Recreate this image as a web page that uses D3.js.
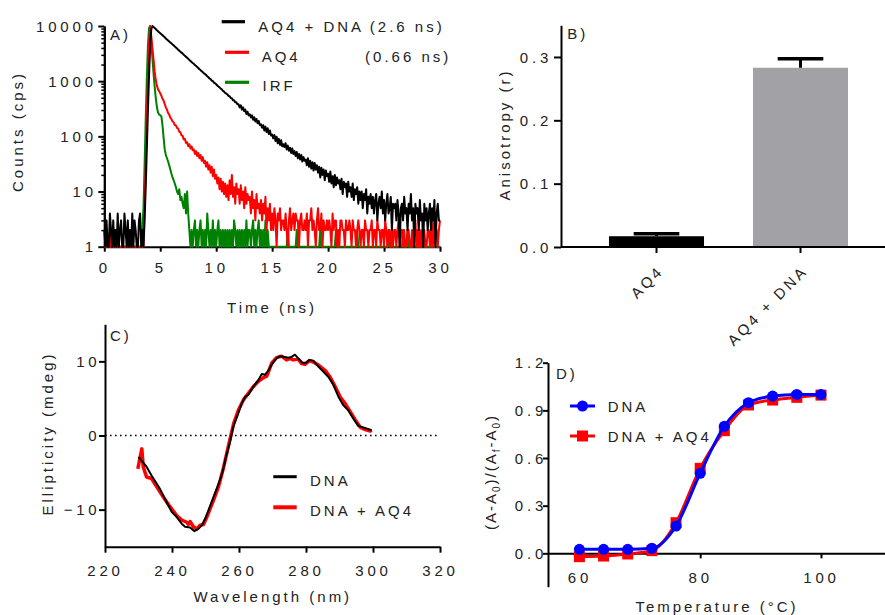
<!DOCTYPE html>
<html>
<head>
<meta charset="utf-8">
<script src="https://cdn.jsdelivr.net/npm/d3@7"></script>
<style>
body { margin: 0; background: #fff; }
svg text { font-family: "Liberation Sans", Arial, Helvetica, sans-serif; fill: #222; }
</style>
</head>
<body>
<svg id="fig" width="885" height="615"></svg>
<script>
// ---- A) fluorescence decays, counts per 0.1 ns channel ----
const channelNs = 0.1;
const decayDnaAq4 = [
 2,1,3,1,1,4,2,1,3,1, 2,1,4,1,2,3,1,1,4,2, 1,3,1,2,1,4,1,3,2,1, 1,3,4,1,2,1,
 3,12,60,300,1300,4500,8800,10000,9600,
 9200,8800,8400,8050,7700,
 7400,7100,6800,6500,6250,5950,5700,5480,5250,5030,
 4840,4620,4450,4240,4080,3900,3720,3580,3420,3290,
 3160,3010,2900,2770,2650,2540,2430,2330,2230,2140,
 2065,1960,1890,1800,1730,1650,1590,1510,1460,1390,
 1350,1290,1230,1180,1120,1090,1020,1000,940,915,
 880,835,800,770,730,710,665,650,610,600,
 575,540,535,495,490,450,450,415,415,380,
 380,335,365,305,335,285,305,255,280,240,
 252,220,240,200,222,186,206,172,190,160,
 165,143,160,128,150,120,140,110,128,104,
 108,92,106,82,98,75,90,70,85,66,
 72,64,75,58,68,55,62,50,60,48,
 54,44,52,40,48,38,46,35,42,36,
 38,30,40,28,36,26,34,24,33,25,
 30,22,28,18,27,20,25,16,24,19,
 21,15,23,14,19,12,20,13,18,14,
 16,11,17,9,15,12,14,8,15,10,
 12,8,14,7,11,9,12,6,10,7,
 10,5,9,7,11,4,8,6,9,5,
 8,4,7,9,3,6,8,5,10,4,
 7,3,6,9,4,5,8,2,6,5,
 6,3,7,4,1,5,6,3,8,4,
 5,2,6,4,9,3,5,1,6,4,
 5,2,7,3,4,1,6,3,5,2,
 4,6,2,5,3,7,1,4,6,3,
 3];
const decayAq4 = [
 1,1,1,1,1,2,1,1,1,1, 1,1,1,1,1,1,1,1,1,1, 1,2,1,1,1,1,1,1,1,1, 1,1,1,1,1,1,
 5,30,200,1100,5000,10000,
 6500,4000,2500,1500,1050,830,710,660,
 600,545,480,445,385,335,305,265,248,218,
 205,186,180,160,158,142,138,122,118,104,
 102,88,90,76,78,66,72,60,66,56,
 58,48,54,44,50,40,46,36,42,33,
 36,28,34,25,30,22,28,19,25,17,
 20,14,18,11,17,10,15,9,14,8,
 13,7,16,9,20,8,12,6,14,9,
 11,6,13,7,10,5,12,6,9,7,
 8,4,10,5,7,3,9,5,6,4,
 7,3,6,4,8,2,5,3,6,2,
 4,2,5,3,1,4,3,5,2,3,
 3,2,4,2,1,3,5,2,3,4,
 2,4,3,3,1,3,4,2,2,3,
 2,4,1,3,3,5,2,3,2,1,
 3,5,2,2,4,1,3,2,2,3,
 2,3,2,1,4,2,3,3,1,2,
 1,3,3,2,2,1,3,2,2,3,
 2,1,3,2,2,1,2,3,2,1,
 2,2,1,3,2,2,1,2,2,3,
 1,2,2,1,3,2,2,1,2,2,
 1,3,2,1,2,2,1,2,1,2,
 2,1,2,3,1,2,2,1,2,1,
 1,2,2,1,1,2,1,2,3,1,
 2,1,2,1,2,1,2,1,1,2,
 2,1,2,1,3,1,2,2,1,2,
 3];
const decayIrf = [
 1,1,1,1,1,1,1,1,1,1, 1,1,1,1,1,1,1,1,1,1, 1,1,1,1,1,1,1,1,1,1, 1,1,1,1,
 2,5,30,200,1100,4500,9200,10000,
 5000,2600,1400,800,500,340,270,250,
 240,230,160,95,58,46,40,35,30,25,
 21,18,16,14,12,10,9,11,7,8,
 6,5,9,4,10,4,2,1,2,1,
 2,3,1,2,1,2,3,1,2,1,
 2,1,4,2,1,2,1,3,1,2,
 1,2,3,1,2,1,2,1,2,1,
 2,1,2,1,2,1,3,2,1,2,
 1,2,1,2,1,2,1,3,1,2,
 2,1,2,3,1,2,1,2,3,1,
 2,1,2,1,3,1,2,1,1,1,
 1,1,1,1,1,1,1,1,1,1,
 1,1,1,1,2,1,1,1,1,1,
 1,1,2,1,1,1,1,1,1,1,
 1,1,1,1,1,1,1,1,1,1,
 1,1,1,2,1,1,1,1,1,1,
 1,1,1,1,1,1,1,2,1,1,
 1,1,1,1,1,1,1,1,1,1,
 1,1,1,1,1,1,2,1,1,1,
 1,1,1,1,1,1,1,1,1,1,
 1,1,1,1,1,1,1,1,1,1,
 1,1,1,1,2,1,1,1,1,1,
 1,1,1,1,1,1,1,2,1,1,
 1,2,1,1,1,1,1,1,1,1,
 1,1,1,1,1,1,1,1,1,1, 1,1,1,1,1,1,1,1,1,1, 1];
const timeTicks = [0, 5, 10, 15, 20, 25, 30];
const countTicks = [1, 10, 100, 1000, 10000];
const decayNames = ["AQ4 + DNA", "AQ4", "IRF"];
const decayLifetimes = ["(2.6 ns)", "(0.66 ns)", ""];

// ---- B) anisotropy ----
const anisoCats = ["AQ4", "AQ4 + DNA"];
const anisoMean = [0.017, 0.283];
const anisoErr = [0.004, 0.014];
const anisoTicks = [0, 0.1, 0.2, 0.3];

// ---- C) CD spectra ----
const cdWlDna = [230,232.4,233.9,236.4,238.4,239.9,241.4,242.9,243.9,245.4,246.7,247.9,248.9,249.9,251.3,
 252.8,254.3,255.1,256.1,257.3,258.3,259.8,260.8,261.8,262.8,264.3,265.8,266.8,267.8,268.8,269.8,271.2,
 272.2,273.7,274.7,275.7,276.7,277.7,279,280,281,282.2,283.7,285.2,286.7,288.2,289.7,291.1,292.6,294.1,
 295.6,297.1,299.6];
const cdDna = [-2.9,-4.2,-5.4,-7.2,-9.0,-10.3,-11.0,-11.9,-12.3,-12.4,-12.9,-12.6,-12.1,-11.2,-9.6,
 -7.8,-6.0,-4.9,-2.9,-0.9,1.2,3.0,4.3,5.2,5.5,6.6,7.5,8.3,8.2,8.8,9.6,10.4,
 10.7,10.6,10.5,10.6,10.9,10.4,9.8,9.8,10.2,10.1,9.3,8.6,7.9,6.8,5.2,4.1,3.4,2.3,
 1.3,1.1,0.7];
const cdWlDnaAq4 = [229.8,230.5,231,231.4,232.4,233.9,235.4,237.4,239.4,241.4,242.9,244.4,244.9,245.4,246.4,
 247.4,248.4,249.4,250.4,252.4,253.9,255.4,256.9,258.4,259.8,261.3,262.8,264.3,265.8,267.3,268.3,269.8,
 271.2,272.7,274.2,275.2,276.2,277.7,278.7,279.7,281,282.2,283.7,285.7,287.2,288.7,290.2,291.7,293.2,
 294.7,296.2,297.7,299.2,299.6];
const cdDnaAq4 = [-4.5,-2.9,-1.8,-4.2,-5.6,-5.8,-6.9,-8.3,-9.6,-10.8,-11.4,-11.7,-12.0,-11.6,-12.3,
 -12.6,-12.1,-12.0,-11.0,-8.7,-6.9,-4.3,-1.3,1.6,3.4,4.8,5.7,6.6,7.3,7.8,8.0,9.8,
 10.5,10.7,10.2,10.4,10.2,10.3,9.7,9.6,10.1,9.9,9.5,8.8,7.9,6.6,5.2,4.3,3.2,
 2.1,1.1,0.8,0.6,0.7];
const wlTicks = [220, 240, 260, 280, 300, 320];
const cdTicks = [-10, 0, 10];
const cdNames = ["DNA", "DNA + AQ4"];

// ---- D) melting curves ----
const meltT = [60, 64, 68, 72, 76, 80, 84, 88, 92, 96, 100];
const meltDna = [0.025, 0.025, 0.025, 0.032, 0.172, 0.504, 0.80, 0.948, 0.99, 1.0, 1.0];
const meltDnaAq4 = [-0.021, -0.017, -0.004, 0.017, 0.193, 0.535, 0.772, 0.934, 0.965, 0.982, 0.996];
const tempTicks = [60, 80, 100];
const fracTicks = [0, 0.3, 0.6, 0.9, 1.2];
const meltNames = ["DNA", "DNA + AQ4"];

const svg = d3.select("#fig");
const FONT = '"Liberation Sans", Arial, Helvetica, sans-serif';
const LS = 3;      // letter spacing of titles / legends
const LSN = 3.8;   // letter spacing of tick numbers

function addText(x, y, str, o = {}) {
  const ls = o.ls ?? LS;
  const anchor = o.anchor || "start";
  const t = svg.append("text")
    .attr("x", x).attr("y", y)
    .attr("font-size", o.size || 15)
    .attr("letter-spacing", ls)
    .attr("text-anchor", anchor)
    .text(str);
  if (anchor === "middle") t.attr("dx", ls / 2);
  if (anchor === "end") t.attr("dx", ls);
  if (o.rotate) t.attr("transform", `rotate(${o.rotate},${x},${y})`);
  return t;
}

function styleAxis(g) {
  g.attr("font-family", FONT).attr("font-size", 15);
  g.select(".domain").attr("stroke", "#000").attr("stroke-width", 2);
  g.selectAll(".tick line").attr("stroke", "#000").attr("stroke-width", 2);
  g.selectAll(".tick text").attr("fill", "#222").attr("letter-spacing", LSN);
}

// ================= A =================
const xA = d3.scaleLinear([0, 30], [104.3, 440]);
const yA = d3.scaleLog([1, 10000], [246.7, 26]);

svg.append("g").attr("transform", `translate(0,${yA(1)})`)
  .call(d3.axisBottom(xA).tickValues(timeTicks).tickSize(5).tickSizeOuter(0))
  .call(styleAxis)
  .call(g => g.selectAll(".tick text").attr("y", 26.6).attr("dy", 0));

svg.append("g").attr("transform", `translate(${xA(0)},0)`)
  .call(d3.axisLeft(yA).tickValues(yA.ticks().filter(v => !countTicks.includes(v)))
    .tickSize(3).tickFormat("").tickSizeOuter(0))
  .call(styleAxis)
  .call(g => g.selectAll(".tick line").attr("stroke-width", 1.5));

svg.append("g").attr("transform", `translate(${xA(0)},0)`)
  .call(d3.axisLeft(yA).tickValues(countTicks).tickFormat(d3.format("d")).tickSize(6).tickSizeOuter(0))
  .call(styleAxis)
  .call(g => g.selectAll(".tick text").attr("x", -11.3 + LSN).attr("dy", "0.35em"));

const decayLine = d3.line()
  .x((d, i) => xA(i * channelNs))
  .y(d => yA(Math.max(d, 1)));

const decaySeries = [
  { v: decayIrf, c: "#008000" },
  { v: decayAq4, c: "#ff0000" },
  { v: decayDnaAq4, c: "#000000" }
];
svg.append("g").selectAll("path").data(decaySeries).join("path")
  .attr("d", d => decayLine(d.v))
  .attr("fill", "none")
  .attr("stroke", d => d.c)
  .attr("stroke-width", 2)
  .attr("stroke-linejoin", "round");

// legend A
const legA = [
  { x1: 221.7, x2: 245, y: 21.7, c: "#000000", tx: 258.3, ty: 31.5, lx: 441.7 },
  { x1: 225, x2: 249, y: 52.3, c: "#ff0000", tx: 261.7, ty: 61.5, lx: 448.3 },
  { x1: 225, x2: 249, y: 82.3, c: "#008000", tx: 262.5, ty: 90.5, lx: 448.3 }
];
legA.forEach((l, i) => {
  svg.append("line").attr("x1", l.x1).attr("x2", l.x2).attr("y1", l.y).attr("y2", l.y)
    .attr("stroke", l.c).attr("stroke-width", 3.2);
  addText(l.tx, l.ty, decayNames[i]);
  if (decayLifetimes[i]) addText(l.lx, l.ty, decayLifetimes[i], { anchor: "end" });
});

addText(110, 39.5, "A)");
addText(22.5, 133, "Counts (cps)", { anchor: "middle", rotate: -90 });
addText(270.5, 312.5, "Time (ns)", { anchor: "middle" });

// ================= B =================
const yB = d3.scaleLinear([0, 0.35], [247, 25.3]);
const xB = d3.scaleBand(anisoCats, [584.5, 872.5]).paddingInner(0.34).paddingOuter(0.17);
const barColors = ["#000000", "#a2a2a6"];

svg.append("g").selectAll("rect").data(anisoCats).join("rect")
  .attr("x", d => xB(d))
  .attr("width", xB.bandwidth())
  .attr("y", (d, i) => yB(anisoMean[i]))
  .attr("height", (d, i) => yB(0) - yB(anisoMean[i]))
  .attr("fill", (d, i) => barColors[i]);

const errG = svg.append("g").attr("stroke", "#000");
anisoCats.forEach((c, i) => {
  const cx = xB(c) + xB.bandwidth() / 2;
  const top = yB(anisoMean[i] + anisoErr[i]);
  errG.append("line").attr("x1", cx).attr("x2", cx)
    .attr("y1", yB(anisoMean[i])).attr("y2", top).attr("stroke-width", 3);
  errG.append("line").attr("x1", cx - xB.bandwidth() * 0.24).attr("x2", cx + xB.bandwidth() * 0.24)
    .attr("y1", top).attr("y2", top).attr("stroke-width", 3.5);
});

svg.append("g").attr("transform", "translate(561,0)")
  .call(d3.axisLeft(yB).tickValues(anisoTicks).tickFormat(d3.format(".1f")).tickSize(7).tickSizeOuter(0))
  .call(styleAxis)
  .call(g => g.selectAll(".tick text").attr("x", -12.7 + LSN).attr("dy", "0.35em"));

svg.append("line").attr("x1", 561).attr("x2", 885).attr("y1", yB(0)).attr("y2", yB(0))
  .attr("stroke", "#000").attr("stroke-width", 2);

svg.append("g").attr("transform", `translate(0,${yB(0)})`)
  .call(d3.axisBottom(xB).tickSize(6).tickSizeOuter(0))
  .call(styleAxis)
  .call(g => g.select(".domain").remove())
  .call(g => g.selectAll(".tick text")
    .attr("x", 0).attr("y", 0).attr("dy", 0).attr("dx", LS)
    .attr("letter-spacing", LS)
    .attr("text-anchor", "end")
    .attr("transform", "translate(6,27) rotate(-45)"));

addText(567.3, 39, "B)");
addText(509.5, 136, "Anisotropy (r)", { anchor: "middle", rotate: -90 });

// ================= C =================
const xC = d3.scaleLinear([220, 320], [105, 440]);
const yC = d3.scaleLinear([-15, 15], [546.7, 324.3]);

svg.append("line").attr("x1", xC(220)).attr("x2", xC(320)).attr("y1", yC(0)).attr("y2", yC(0))
  .attr("stroke", "#000").attr("stroke-width", 1.6).attr("stroke-dasharray", "1.6,3.4");

const cdLine = d3.line().x(d => xC(d[0])).y(d => yC(d[1]));
svg.append("path").datum(d3.zip(cdWlDnaAq4, cdDnaAq4))
  .attr("d", cdLine).attr("fill", "none").attr("stroke", "#ff0000")
  .attr("stroke-width", 3.5).attr("stroke-linejoin", "round");
svg.append("path").datum(d3.zip(cdWlDna, cdDna))
  .attr("d", cdLine).attr("fill", "none").attr("stroke", "#000")
  .attr("stroke-width", 2).attr("stroke-linejoin", "round");

svg.append("g").attr("transform", `translate(0,${yC(-15)})`)
  .call(d3.axisBottom(xC).tickValues(wlTicks).tickSize(6).tickSizeOuter(0))
  .call(styleAxis)
  .call(g => g.selectAll(".tick text").attr("y", 29.3).attr("dy", 0));

svg.append("g").attr("transform", `translate(${xC(220)},0)`)
  .call(d3.axisLeft(yC).tickValues(cdTicks).tickSize(6).tickSizeOuter(0))
  .call(styleAxis)
  .call(g => g.selectAll(".tick text").attr("x", -8.3 + LSN).attr("dy", "0.35em"));

const legC = [
  { y: 476.7, c: "#000", w: 3, ty: 486 },
  { y: 507.3, c: "#ff0000", w: 4, ty: 516 }
];
legC.forEach((l, i) => {
  svg.append("line").attr("x1", 273.3).attr("x2", 296.7).attr("y1", l.y).attr("y2", l.y)
    .attr("stroke", l.c).attr("stroke-width", l.w);
  addText(310, l.ty, cdNames[i]);
});

addText(110, 340.5, "C)");
addText(52.5, 435, "Ellipticity (mdeg)", { anchor: "middle", rotate: -90 });
addText(271.3, 602.4, "Wavelength (nm)", { anchor: "middle" });

// ================= D =================
const xD = d3.scaleLinear([54.8, 110.6], [548, 885]);
const yD = d3.scaleLinear([-0.21, 1.2], [586.7, 362.7]);

svg.append("g").attr("transform", `translate(0,${yD(0)})`)
  .call(d3.axisBottom(xD).tickValues(tempTicks).tickSize(5).tickSizeOuter(0))
  .call(styleAxis)
  .call(g => g.selectAll(".tick text").attr("y", 29.4).attr("dy", 0));

svg.append("g").attr("transform", `translate(${xD(54.8)},0)`)
  .call(d3.axisLeft(yD).tickValues(fracTicks).tickFormat(d3.format(".1f")).tickSize(5).tickSizeOuter(0))
  .call(styleAxis)
  .call(g => g.selectAll(".tick text").attr("x", -4.7 + LSN).attr("dy", "0.35em"));

const meltLine = d3.line().x(d => xD(d[0])).y(d => yD(d[1])).curve(d3.curveMonotoneX);
const meltRed = d3.zip(meltT, meltDnaAq4);
const meltBlue = d3.zip(meltT, meltDna);

svg.append("path").datum(meltRed).attr("d", meltLine)
  .attr("fill", "none").attr("stroke", "#ff0000").attr("stroke-width", 3);
svg.append("g").selectAll("rect").data(meltRed).join("rect")
  .attr("x", d => xD(d[0]) - 5.5).attr("y", d => yD(d[1]) - 5.5)
  .attr("width", 11).attr("height", 11).attr("fill", "#ff0000");

svg.append("path").datum(meltBlue).attr("d", meltLine)
  .attr("fill", "none").attr("stroke", "#0000ff").attr("stroke-width", 3);
svg.append("g").selectAll("circle").data(meltBlue).join("circle")
  .attr("cx", d => xD(d[0])).attr("cy", d => yD(d[1]))
  .attr("r", 5.5).attr("fill", "#0000ff");

// legend D
svg.append("line").attr("x1", 570).attr("x2", 595).attr("y1", 406).attr("y2", 406)
  .attr("stroke", "#0000ff").attr("stroke-width", 3);
svg.append("circle").attr("cx", 582.5).attr("cy", 406).attr("r", 5.5).attr("fill", "#0000ff");
addText(607.7, 412, meltNames[0]);
svg.append("line").attr("x1", 570).attr("x2", 595).attr("y1", 436).attr("y2", 436)
  .attr("stroke", "#ff0000").attr("stroke-width", 3);
svg.append("rect").attr("x", 577).attr("y", 430.5).attr("width", 11).attr("height", 11).attr("fill", "#ff0000");
addText(607.7, 442.3, meltNames[1]);

addText(556, 379, "D)");
addText(715.5, 612.4, "Temperature (°C)", { anchor: "middle" });

// y label with subscripts
const yl = svg.append("text")
  .attr("transform", "translate(496,472) rotate(-90)")
  .attr("text-anchor", "middle")
  .attr("font-size", 15)
  .attr("letter-spacing", 2);
const parts = [["(A-A", 0], ["0", 1], [")/(A", 0], ["f", 1], ["-A", 0], ["0", 1], [")", 0]];
let shifted = false;
parts.forEach(([s, sub]) => {
  const t = yl.append("tspan").text(s);
  if (sub) { t.attr("font-size", 10).attr("dy", shifted ? 0 : 4); shifted = true; }
  else if (shifted) { t.attr("dy", -4); shifted = false; }
});
</script>
</body>
</html>
